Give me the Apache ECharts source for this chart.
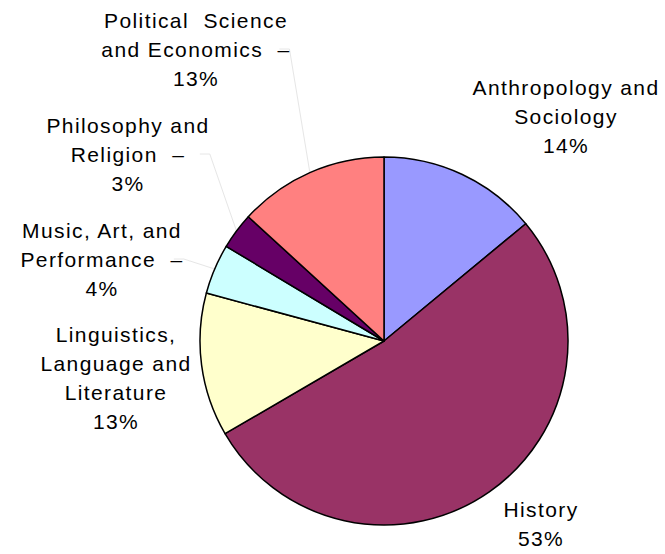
<!DOCTYPE html>
<html>
<head>
<meta charset="utf-8">
<script src="https://cdn.jsdelivr.net/npm/echarts@6/dist/echarts.min.js"></script>
<style>
html, body { margin: 0; padding: 0; background: #fff; }
#chart { width: 665px; height: 554px; }
/* the original labels are spread out a little */
#chart svg text { letter-spacing: 1.4px; }
</style>
</head>
<body>
<div id="chart"></div>
<script>
// slices clockwise from 12 o'clock
const categories = [
  "Anthropology and\nSociology",
  "History",
  "Linguistics,\nLanguage and\nLiterature",
  "Music, Art, and\nPerformance",
  "Philosophy and\nReligion",
  "Political  Science\nand Economics"
];
const shares = [14.0, 52.6, 12.6, 4.4, 3.2, 13.2];
const colors = ["#9999FF", "#993366", "#FFFFCC", "#CCFFFF", "#660066", "#FF8080"];

// where each label block sits, and which ones get a leader line
const labelPos = [[566, 116], [541, 524], [116, 378], [102, 259], [128, 154], [196, 49]];
const hasLeader = [false, false, false, true, true, true];

const chart = echarts.init(document.getElementById("chart"), null, { renderer: "svg" });

const data = categories.map(function (name, i) {
  return {
    name: name,
    value: shares[i],
    itemStyle: { color: colors[i] },
    labelLine: { show: hasLeader[i] }
  };
});

chart.setOption({
  animation: false,
  series: [
    {
      type: "pie",
      center: [384, 341],
      radius: 184,
      startAngle: 90,
      clockwise: true,
      avoidLabelOverlap: false,
      data: data,
      itemStyle: { borderColor: "#000", borderWidth: 1.5 },
      label: {
        show: true,
        position: "outside",
        fontFamily: "Liberation Sans, Arial, sans-serif",
        fontSize: 21,
        lineHeight: 29,
        color: "#000",
        align: "center",
        formatter: function (p) {
          let txt = p.name;
          if (hasLeader[p.dataIndex]) txt += "  \u2013";
          return txt + "\n" + Math.round(p.percent) + "%";
        }
      },
      labelLine: {
        length: 10,
        length2: 10,
        lineStyle: { color: "#e6e6e6", width: 1 }
      },
      labelLayout: function (params) {
        const pos = labelPos[params.dataIndex];
        return { x: pos[0], y: pos[1], align: "center", verticalAlign: "middle" };
      }
    }
  ]
});
</script>
</body>
</html>
